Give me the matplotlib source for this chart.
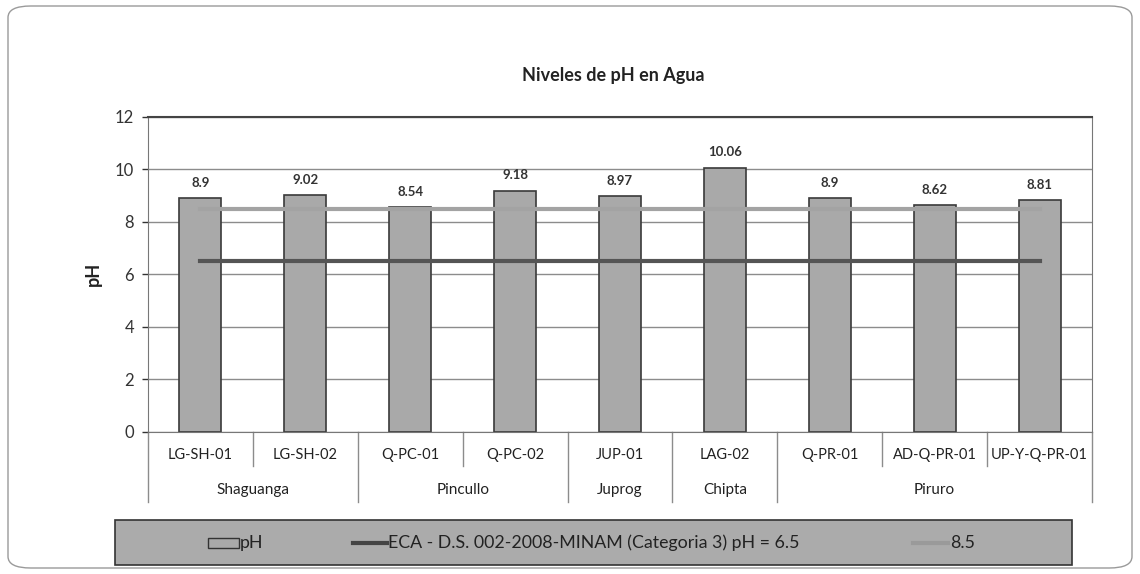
import matplotlib
matplotlib.use("Agg")
import matplotlib.pyplot as plt
from matplotlib.patches import FancyBboxPatch, Rectangle
from matplotlib.lines import Line2D
import numpy as np

plt.rcParams['font.family'] = ['Lato', 'DejaVu Sans']

stations = ["LG-SH-01", "LG-SH-02", "Q-PC-01", "Q-PC-02", "JUP-01",
            "LAG-02", "Q-PR-01", "AD-Q-PR-01", "UP-Y-Q-PR-01"]
ph_values = [8.9, 9.02, 8.54, 9.18, 8.97, 10.06, 8.9, 8.62, 8.81]
groups = ["Shaguanga", "Pincullo", "Juprog", "Chipta", "Piruro"]
group_sizes = [2, 2, 1, 1, 3]
eca_limit = 6.5
upper_limit = 8.5
y_ticks = [0, 2, 4, 6, 8, 10, 12]

W, H = 1140, 574
fig = plt.figure(figsize=(W / 100, H / 100), dpi=100)

# outer rounded frame
frame = FancyBboxPatch((8 / W, 6 / H), 1124 / W, 562 / H,
                       boxstyle="round,pad=0,rounding_size=0.02",
                       transform=fig.transFigure, fill=False,
                       edgecolor="#9a9a9a", linewidth=1.0)
fig.patches.append(frame)

ax_l, ax_r, ax_t, ax_b = 148, 1092, 116.5, 432
ax = fig.add_axes([ax_l / W, 1 - ax_b / H, (ax_r - ax_l) / W, (ax_b - ax_t) / H])

x = np.arange(len(stations))
ax.bar(x, ph_values, width=0.4, color="#a9a9a9", edgecolor="#3a3a3a",
       linewidth=1.2, zorder=2)
ax.plot([x[0], x[-1]], [eca_limit] * 2, color="#555555", linewidth=3, zorder=3)
ax.plot([x[0], x[-1]], [upper_limit] * 2, color="#a3a3a3", linewidth=3, zorder=3)

for xi, v in zip(x, ph_values):
    ax.annotate(f"{v:g}", (xi, v), xytext=(0, 11), textcoords="offset points",
                ha="center", va="center", fontsize=9.5, fontweight="bold",
                color="#333333")

ax.set_xlim(-0.5, len(stations) - 0.5)
ax.set_ylim(0, 12)
ax.set_yticks(y_ticks)
ax.tick_params(axis="y", labelsize=12, colors="#333333", length=4,
               width=1, direction="out", pad=6)
ax.set_xticks([])
ax.grid(axis="y", color="#8c8c8c", linewidth=1, zorder=0)
ax.set_axisbelow(True)
for s in ["left", "right", "top"]:
    ax.spines[s].set_color("#777777")
ax.spines["top"].set_color("#444444")
ax.spines["top"].set_linewidth(1.5)
ax.spines["bottom"].set_color("#777777")
ax.set_ylabel("pH", fontsize=13, fontweight="bold", labelpad=9, color="#222222")

# hierarchical category axis below the plot
trans = ax.get_xaxis_transform()
span = ax_b - ax_t
row1 = -34 / span
row2 = -70 / span
for i, name in enumerate(stations):
    ax.text(i, -23 / span, name, transform=trans, ha="center", va="center",
            fontsize=10.5, color="#222222", clip_on=False)
boundaries = np.concatenate([[0], np.cumsum(group_sizes)]) - 0.5
for k in range(len(stations) + 1):
    xb = k - 0.5
    y_end = row2 if np.any(np.isclose(boundaries, xb)) else row1
    ax.add_line(Line2D([xb, xb], [0, y_end], transform=trans, color="#8c8c8c",
                       linewidth=1, clip_on=False))
for g, a, b in zip(groups, boundaries[:-1], boundaries[1:]):
    ax.text((a + b) / 2, -58 / span, g, transform=trans, ha="center",
            va="center", fontsize=11, color="#222222", clip_on=False)

fig.text(0.538, 1 - 75 / H, "Niveles de pH en Agua", ha="center", va="center",
         fontsize=13, fontweight="bold", color="#222222")

# legend box
lx0, lx1, ly0, ly1 = 115, 1072, 520, 565
fig.patches.append(Rectangle((lx0 / W, 1 - ly1 / H), (lx1 - lx0) / W, (ly1 - ly0) / H,
                             transform=fig.transFigure, facecolor="#ababab",
                             edgecolor="#333333", linewidth=1.2))
ly = 1 - 543 / H
fig.patches.append(Rectangle((208 / W, ly - 5 / H), 31 / W, 10 / H,
                             transform=fig.transFigure, facecolor="#a9a9a9",
                             edgecolor="#333333", linewidth=1))
fig.text(240 / W, ly, "pH", ha="left", va="center", fontsize=12.8, color="#222222")
fig.lines.append(Line2D([353 / W, 387 / W], [ly, ly], transform=fig.transFigure,
                        color="#444444", linewidth=3))
fig.text(388 / W, ly, "ECA - D.S. 002-2008-MINAM (Categoria 3) pH = 6.5",
         ha="left", va="center", fontsize=12.8, color="#222222")
fig.lines.append(Line2D([913 / W, 948 / W], [ly, ly], transform=fig.transFigure,
                        color="#9a9a9a", linewidth=3))
fig.text(950 / W, ly, "8.5", ha="left", va="center", fontsize=12.8, color="#222222")

fig.savefig("out.png", dpi=100)
